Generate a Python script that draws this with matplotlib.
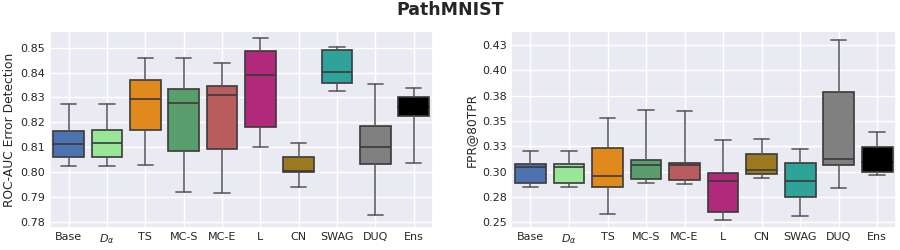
import matplotlib.pyplot as plt
import seaborn as sns
from matplotlib.ticker import FormatStrFormatter, MultipleLocator

sns.set_theme(style='darkgrid')

methods = ['Base', r'$D_\alpha$', 'TS', 'MC-S', 'MC-E', 'L', 'CN', 'SWAG', 'DUQ', 'Ens']
colors = ['#4c72b0', '#98e698', '#e08a1e', '#5b9e6d', '#b85c5e',
          '#b0297b', '#9b7a1f', '#2fa39a', '#808080', '#000000']

# whisker low, Q1, median, Q3, whisker high
auc_low = [0.8024, 0.8024, 0.8030, 0.7919, 0.7916, 0.8100, 0.7939, 0.8327, 0.7829, 0.8036]
auc_q1 = [0.8059, 0.8062, 0.8168, 0.8084, 0.8093, 0.8181, 0.7999, 0.8356, 0.8032, 0.8225]
auc_med = [0.8114, 0.8117, 0.8292, 0.8276, 0.8308, 0.8389, 0.8005, 0.8403, 0.8101, 0.8260]
auc_q3 = [0.8165, 0.8168, 0.8368, 0.8333, 0.8346, 0.8487, 0.8059, 0.8490, 0.8186, 0.8300]
auc_high = [0.8275, 0.8275, 0.8457, 0.8457, 0.8439, 0.8538, 0.8115, 0.8501, 0.8352, 0.8339]

fpr_low = [0.2849, 0.2849, 0.2585, 0.2889, 0.2875, 0.2526, 0.2937, 0.2559, 0.2840, 0.2964]
fpr_q1 = [0.2892, 0.2892, 0.2853, 0.2928, 0.2921, 0.2601, 0.2973, 0.2748, 0.3071, 0.2993]
fpr_med = [0.3045, 0.3045, 0.2957, 0.3071, 0.3071, 0.2905, 0.3013, 0.2905, 0.3130, 0.3100]
fpr_q3 = [0.3075, 0.3075, 0.3231, 0.3117, 0.3091, 0.2983, 0.3176, 0.3088, 0.3783, 0.3244]
fpr_high = [0.3202, 0.3202, 0.3528, 0.3604, 0.3597, 0.3316, 0.3326, 0.3225, 0.4296, 0.3388]


def make_stats(low, q1, med, q3, high):
    return [dict(whislo=a, q1=b, med=c, q3=d, whishi=e, fliers=[], label=m)
            for a, b, c, d, e, m in zip(low, q1, med, q3, high, methods)]


fig = plt.figure(figsize=(9, 2.5), dpi=100)
ax1 = fig.add_axes([0.055, 0.088, 0.426, 0.788])
ax2 = fig.add_axes([0.568, 0.088, 0.428, 0.788])

line_col = '#3a3a3a'
panels = [
    (ax1, make_stats(auc_low, auc_q1, auc_med, auc_q3, auc_high), 'ROC-AUC Error Detection'),
    (ax2, make_stats(fpr_low, fpr_q1, fpr_med, fpr_q3, fpr_high), 'FPR@80TPR'),
]
for ax, stats, ylabel in panels:
    bp = ax.bxp(stats, patch_artist=True, widths=0.8, showfliers=False,
                boxprops=dict(edgecolor=line_col, linewidth=1.2),
                medianprops=dict(color=line_col, linewidth=1.2),
                whiskerprops=dict(color='#555555', linewidth=1.3, alpha=0.85),
                capprops=dict(color='#555555', linewidth=1.3, alpha=0.85))
    for patch, c in zip(bp['boxes'], colors):
        patch.set_facecolor(c)
    # the ensemble box is black, its median disappears into it
    bp['medians'][-1].set_color('black')
    ax.set_xlim(0.5, len(methods) + 0.5)
    ax.set_ylabel(ylabel, fontsize=8.8, labelpad=3)
    ax.tick_params(axis='both', labelsize=8, length=0, pad=3)
    ax.yaxis.set_major_formatter(FormatStrFormatter('%.2f'))

ax1.set_ylim(0.7775, 0.8567)
ax1.yaxis.set_major_locator(MultipleLocator(0.01))
ax2.set_ylim(0.2445, 0.4388)
ax2.yaxis.set_major_locator(MultipleLocator(0.025))

fig.suptitle('PathMNIST', fontsize=12.5, fontweight='bold', y=0.995)

fig.savefig('out.png', dpi=100)
